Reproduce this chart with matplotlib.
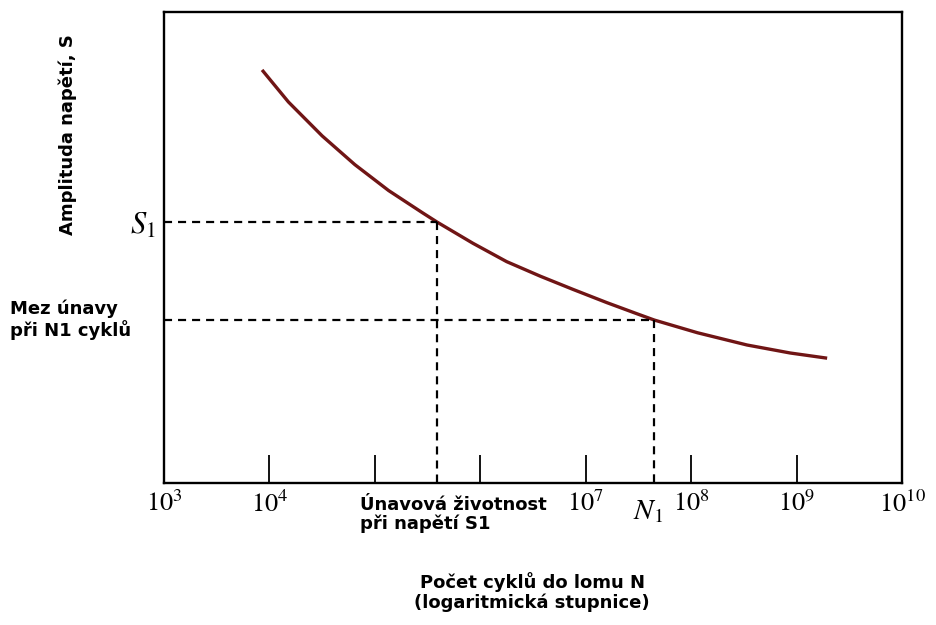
import matplotlib
matplotlib.use("Agg")
import matplotlib.pyplot as plt
import numpy as np

plt.rcParams['mathtext.fontset'] = 'stix'
plt.rcParams['lines.scale_dashes'] = False

# S-N curve (log10 of cycles, stress amplitude in arbitrary units)
log_n = [3.93, 4.18, 4.50, 4.81, 5.13, 5.45, 5.59, 5.93, 6.25, 6.57, 6.88,
         7.20, 7.49, 7.65, 8.06, 8.53, 8.94, 9.29]
stress = [87.7, 80.9, 73.7, 67.6, 62.1, 57.4, 55.4, 50.9, 47.0, 43.9, 41.1,
          38.3, 35.9, 34.6, 31.9, 29.3, 27.6, 26.5]

s1 = 55.4           # stress S1
n_at_s1 = 5.59      # log10 of fatigue life at S1
limit_n1 = 34.6     # fatigue limit at N1 cycles
n1 = 7.65           # log10 of N1

decades = [3, 4, 5, 6, 7, 8, 9, 10]
decade_labels = ['$10^3$', '$10^4$', '', '', '$10^7$', '$10^8$', '$10^9$', '$10^{10}$']

fig = plt.figure(figsize=(9.36, 6.25), dpi=100)
ax = fig.add_axes([164/936, 1 - 483/625, (902-164)/936, (483-12)/625])

N = 10.0 ** np.array(log_n)
ax.plot(N, stress, color='#701515', lw=2.4, solid_capstyle='butt', solid_joinstyle='round')

dash = (0, (5.8, 4.3))
ax.plot([10**3, 10**n_at_s1], [s1, s1], color='black', lw=1.6, linestyle=dash)
ax.plot([10**n_at_s1, 10**n_at_s1], [s1, 0], color='black', lw=1.6, linestyle=dash)
ax.plot([10**3, 10**n1], [limit_n1, limit_n1], color='black', lw=1.6, linestyle=dash)
ax.plot([10**n1, 10**n1], [limit_n1, 0], color='black', lw=1.6, linestyle=dash)

ax.set_xscale('log')
ax.set_xlim(10**3, 10**10)
ax.set_ylim(0, 100)

ax.set_xticks([10.0**d for d in decades])
ax.set_xticklabels(decade_labels, fontsize=19)
ax.minorticks_off()
ax.tick_params(axis='x', direction='in', length=20, width=1.3, pad=6)

ax.set_yticks([s1, limit_n1])
ax.set_yticklabels(['$S_1$', ''], fontsize=22)
ax.tick_params(axis='y', length=0, pad=6)

for sp in ax.spines.values():
    sp.set_linewidth(1.7)

# N1 label on the x axis
ax.text(10**(n1 - 0.06), -3.0, '$N_1$', fontsize=21, ha='center', va='top',
        transform=ax.transData)

bold = dict(family='DejaVu Sans', weight='bold', fontsize=13)
fig.text(360/936, 1 - 496/625, 'Únavová životnost\npři napětí S1', ha='left', va='top',
         linespacing=1.05, **bold)
fig.text(68/936, 1 - 135/625, 'Amplituda napětí, S', rotation=90, ha='center', va='center', **bold)
fig.text(10/936, 1 - 320/625, 'Mez únavy\npři N1 cyklů', ha='left', va='center',
         linespacing=1.1, **bold)
fig.text(532/936, 1 - 592/625, 'Počet cyklů do lomu N\n(logaritmická stupnice)', ha='center',
         va='center', linespacing=1.15, **bold)

fig.savefig('out.png', dpi=100)
